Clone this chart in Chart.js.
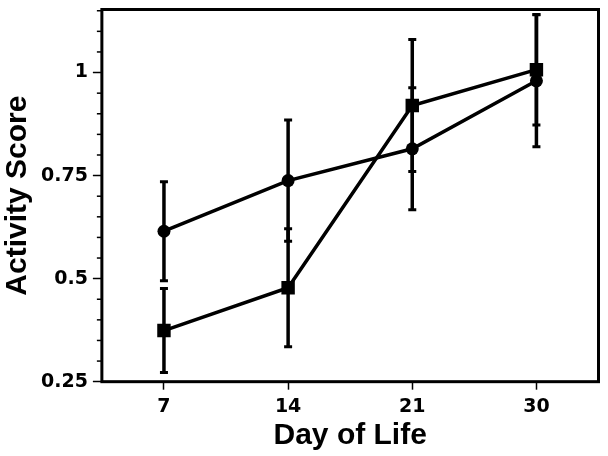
<!DOCTYPE html>
<html>
<head>
<meta charset="utf-8">
<script src="https://cdn.jsdelivr.net/npm/chart.js@4/dist/chart.umd.min.js"></script>
<style>
  html, body { margin: 0; padding: 0; background: #fff; }
  #wrap { width: 608px; height: 456px; }
</style>
</head>
<body>
<div id="wrap"><canvas id="activity_chart" width="608" height="456"></canvas></div>
<script>
const days = ['7', '14', '21', '30'];                 // X 轴标签 (Day of Life)
const circleMean = [0.615, 0.738, 0.815, 0.980];      // 圆点系列
const circleErr = [0.120, 0.147, 0.148, 0.160];
const squareMean = [0.374, 0.478, 0.920, 1.007];      // 方块系列
const squareErr = [0.102, 0.143, 0.160, 0.134];
const yMin = 0.25;
const yMax = 1.153;

function isMajor(v) {
  return Math.abs(v * 4 - Math.round(v * 4)) < 1e-6;
}

// 误差棒
const errorBars = {
  id: 'errorBars',
  beforeDatasetsDraw(chart) {
    const ctx = chart.ctx;
    const x = chart.scales.x, y = chart.scales.y;
    ctx.save();
    ctx.strokeStyle = '#000';
    chart.data.datasets.forEach(ds => {
      ds.data.forEach((v, i) => {
        const px = x.getPixelForValue(i);
        const top = y.getPixelForValue(v + ds.err[i]);
        const bot = y.getPixelForValue(v - ds.err[i]);
        ctx.lineWidth = 3.5;
        ctx.beginPath();
        ctx.moveTo(px, top);
        ctx.lineTo(px, bot);
        ctx.stroke();
        ctx.lineWidth = 3;
        ctx.beginPath();
        ctx.moveTo(px - 4, top); ctx.lineTo(px + 4, top);
        ctx.moveTo(px - 4, bot); ctx.lineTo(px + 4, bot);
        ctx.stroke();
      });
    });
    ctx.restore();
  }
};

// 外框 + 次刻度
const frame = {
  id: 'frame',
  afterDraw(chart) {
    const ctx = chart.ctx;
    const a = chart.chartArea;
    const y = chart.scales.y;
    ctx.save();
    ctx.strokeStyle = '#000';
    ctx.lineWidth = 3;
    ctx.strokeRect(a.left, a.top, a.right - a.left, a.bottom - a.top);
    ctx.lineWidth = 1.5;
    y.ticks.forEach(t => {
      if (isMajor(t.value)) return;
      const py = y.getPixelForValue(t.value);
      ctx.beginPath();
      ctx.moveTo(a.left - 5, py);
      ctx.lineTo(a.left, py);
      ctx.stroke();
    });
    ctx.restore();
  }
};

const xTickFont = { family: 'DejaVu Sans, sans-serif', size: 19, weight: 'bold', lineHeight: 1.07 };
const yTickFont = { family: 'DejaVu Sans, sans-serif', size: 19, weight: 'bold', lineHeight: 0.1 };
const xTitleFont = { family: 'Liberation Sans, Arial, sans-serif', size: 30, weight: 'bold', lineHeight: 0.733 };
const yTitleFont = { family: 'Liberation Sans, Arial, sans-serif', size: 30, weight: 'bold' };

const ctx_act = document.getElementById('activity_chart');
const config_act = {
  type: 'line',
  data: {
    labels: days,
    datasets: [{
      label: 'circle',
      data: circleMean,
      err: circleErr,
      borderColor: '#000',
      backgroundColor: '#000',
      borderWidth: 3.5,
      pointStyle: 'circle',
      pointRadius: 6.5,
      pointBorderWidth: 0,
      tension: 0
    }, {
      label: 'square',
      data: squareMean,
      err: squareErr,
      borderColor: '#000',
      backgroundColor: '#000',
      borderWidth: 3.5,
      pointStyle: 'rect',
      pointRadius: 9.5,
      pointBorderWidth: 0,
      tension: 0
    }]
  },
  options: {
    responsive: false,
    animation: false,
    layout: { padding: { left: 0, right: 8, top: 2, bottom: 9 } },
    plugins: { legend: { display: false }, tooltip: { enabled: false } },
    scales: {
      x: {
        type: 'category',
        offset: true,
        border: { display: false },
        grid: { drawOnChartArea: false, drawTicks: true, tickLength: 8, tickWidth: 1.5, tickColor: '#000', offset: false },
        ticks: { color: '#000', padding: 7.5, font: xTickFont },
        title: {
          display: true, text: 'Day of Life', color: '#000',
          padding: { top: 0, bottom: 0 },
          font: xTitleFont
        }
      },
      y: {
        min: yMin,
        max: yMax,
        border: { display: false },
        grid: {
          drawOnChartArea: false, drawTicks: true, tickLength: 9, tickWidth: 1.5,
          tickColor: c => isMajor(c.tick.value) ? '#000' : 'rgba(0,0,0,0)'
        },
        ticks: {
          stepSize: 0.05,
          includeBounds: false,
          autoSkip: false,
          color: '#000',
          padding: 5,
          font: yTickFont,
          callback: v => isMajor(v) ? String(Math.round(v * 100) / 100) : ''
        },
        title: {
          display: true, text: 'Activity Score', color: '#000',
          padding: { top: 0, bottom: 0 },
          font: yTitleFont
        }
      }
    }
  },
  plugins: [errorBars, frame]
};
const myChart_act = new Chart(ctx_act, config_act);
</script>
</body>
</html>
